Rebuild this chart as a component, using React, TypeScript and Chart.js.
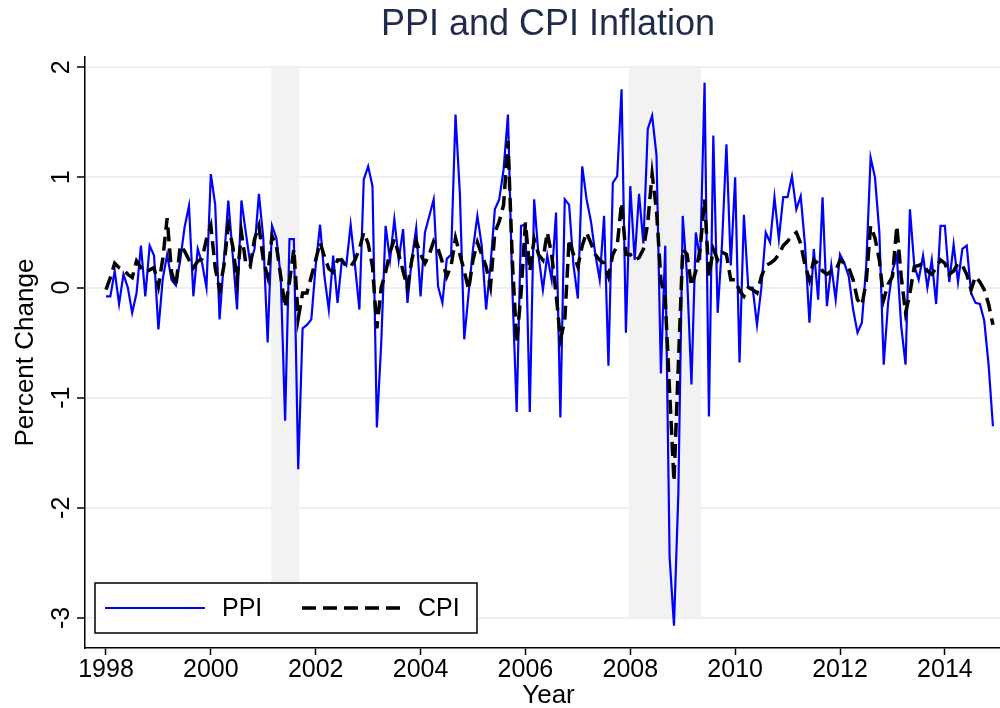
import React, { useEffect, useRef } from "react";
import { Chart, registerables } from "chart.js";

Chart.register(...registerables);

const titleText = "PPI and CPI Inflation";
const xTitle = "Year";
const yTitle = "Percent Change";
const seriesNames = ["PPI", "CPI"];
const startYear = 1998; // monthly data, Jan 1998 - Dec 2014

const ppi = [
  -0.08, -0.08, 0.15, -0.15, 0.12, 0.0, -0.23, -0.05, 0.38, -0.08, 0.38, 0.29,
  -0.38, 0.08, 0.3, 0.07, 0.02, 0.25, 0.55, 0.74, -0.08, 0.35, 0.22, 0.0,
  1.03, 0.75, -0.29, 0.25, 0.79, 0.3, -0.2, 0.79, 0.5, 0.22, 0.35, 0.85,
  0.45, -0.5, 0.56, 0.45, 0.1, -1.21, 0.44, 0.44, -1.65, -0.37, -0.34, -0.29,
  0.2, 0.57, 0.1, -0.2, 0.29, -0.14, 0.25, 0.2, 0.57, 0.2, -0.2, 0.98,
  1.1, 0.92, -1.27, -0.5, 0.56, 0.25, 0.62, 0.25, 0.53, -0.14, 0.26, 0.54,
  -0.08, 0.5, 0.65, 0.8, 0.01, -0.14, 0.26, 0.3, 1.57, 0.85, -0.47, -0.05,
  0.35, 0.65, 0.38, -0.2, 0.2, 0.71, 0.8, 1.07, 1.57, 0.0, -1.13, 0.56,
  0.57, -1.13, 0.8, 0.29, -0.02, 0.29, 0.07, 0.68, -1.18, 0.8, 0.75, 0.2,
  -0.1, 1.1, 0.8, 0.6, 0.3, 0.07, 0.65, -0.71, 0.95, 1.01, 1.8, -0.41,
  0.92, 0.25, 0.85, 0.4, 1.44, 1.56, 1.2, -0.78, 0.38, -2.45, -3.07, -1.87,
  0.65, 0.1, -0.88, 0.5, 0.25, 1.86, -1.17, 1.38, -0.23, 0.4, 1.3, 0.2,
  1.0, -0.68, 0.66, 0.0, 0.0, -0.34, 0.0, 0.5, 0.41, 0.82, 0.44, 0.82,
  0.82, 1.01, 0.71, 0.83, 0.38, -0.32, 0.35, -0.11, 0.82, -0.17, 0.2, -0.11,
  0.3, 0.22, 0.1, -0.2, -0.41, -0.32, 0.2, 1.18, 1.0, 0.5, -0.7, -0.14,
  0.15, 0.29, -0.35, -0.7, 0.71, 0.2, 0.07, 0.29, 0.0, 0.25, -0.15, 0.56,
  0.56, 0.05, 0.39, 0.05, 0.35, 0.38, -0.05, -0.14, -0.15, -0.3, -0.7, -1.26,
];

const cpi = [
  -0.02, 0.09, 0.22, 0.18, 0.16, 0.12, 0.09, 0.24, 0.18, 0.14, 0.16, 0.18,
  0.01, 0.26, 0.63, 0.14, 0.01, 0.38, 0.33, 0.25, 0.18, 0.24, 0.26, 0.44,
  0.56, 0.18, -0.02, 0.2, 0.56, 0.38, 0.07, 0.5, 0.22, 0.19, 0.44, 0.56,
  0.25, 0.1, 0.47, 0.38, 0.1, -0.18, 0.05, 0.35, -0.28, -0.05, -0.05, 0.1,
  0.25, 0.41, 0.28, 0.17, 0.14, 0.25, 0.25, 0.19, 0.19, 0.25, 0.35, 0.5,
  0.4, 0.19, -0.37, 0.0, 0.14, 0.32, 0.44, 0.3, 0.15, 0.0, 0.25, 0.42,
  0.3, 0.22, 0.3, 0.42, 0.35, 0.23, 0.1, 0.2, 0.45, 0.3, 0.15, -0.02,
  0.25, 0.41, 0.3, 0.19, 0.01, 0.5, 0.6, 0.75, 1.33, 0.25, -0.5, -0.05,
  0.59, 0.15, 0.44, 0.3, 0.25, 0.5, 0.3, -0.05, -0.47, -0.3, 0.44, 0.3,
  0.19, 0.38, 0.5, 0.4, 0.3, 0.25, 0.22, 0.1, 0.3, 0.38, 0.77, 0.3,
  0.3, 0.25, 0.27, 0.35, 0.59, 1.03, 0.7, 0.07, -0.11, -0.95, -1.76, -0.7,
  0.35, 0.3, 0.01, 0.15, 0.35, 0.8, 0.1, 0.35, 0.25, 0.32, 0.3, 0.07,
  0.07, -0.03, -0.08, 0.0, -0.02, -0.05, 0.1, 0.2, 0.22, 0.25, 0.3, 0.38,
  0.42, 0.47, 0.5, 0.4, 0.2, 0.07, 0.25, 0.22, 0.15, 0.12, 0.15, 0.15,
  0.25, 0.22, 0.18, 0.07, -0.11, -0.16, 0.05, 0.56, 0.45, 0.25, -0.11, 0.03,
  0.1, 0.56, 0.1, -0.23, -0.05, 0.19, 0.2, 0.22, 0.15, 0.12, 0.18, 0.25,
  0.22, 0.12, 0.15, 0.22, 0.2, 0.12, -0.02, 0.1, 0.05, -0.02, -0.15, -0.34,
];

const xTicks = [1998, 2000, 2002, 2004, 2006, 2008, 2010, 2012, 2014];
const yTicks = [-3, -2, -1, 0, 1, 2];
const recessions = [
  [2001.15, 2001.69],
  [2007.97, 2009.35],
];

const FAMILY = "'Liberation Sans', Arial, sans-serif";

const bandPlugin = {
  id: "bands",
  beforeDatasetsDraw(chart: any) {
    const { ctx, scales } = chart;
    const xs = scales.x;
    const ys = scales.y;
    const top = ys.getPixelForValue(yTicks[yTicks.length - 1]);
    const bottom = ys.getPixelForValue(yTicks[0]);
    ctx.save();
    ctx.fillStyle = "#f2f2f2";
    for (const [a, b] of recessions) {
      const x0 = xs.getPixelForValue(a);
      const x1 = xs.getPixelForValue(b);
      ctx.fillRect(x0, top, x1 - x0, bottom - top);
    }
    ctx.restore();
  },
};

const legendPlugin = {
  id: "boxLegend",
  afterDraw(chart: any) {
    const { ctx } = chart;
    const ds = chart.data.datasets;
    const bx = 95, by = 583, bw = 382, bh = 50;
    const cy = by + bh / 2;
    ctx.save();
    ctx.fillStyle = "#ffffff";
    ctx.fillRect(bx, by, bw, bh);
    ctx.strokeStyle = "#000000";
    ctx.lineWidth = 1.5;
    ctx.strokeRect(bx, by, bw, bh);
    const items = [
      { x0: 105, x1: 205, tx: 222 },
      { x0: 302, x1: 402, tx: 418 },
    ];
    items.forEach((it, k) => {
      const d = ds[k];
      ctx.beginPath();
      ctx.strokeStyle = d.borderColor;
      ctx.lineWidth = d.borderWidth;
      ctx.setLineDash(d.borderDash || []);
      ctx.moveTo(it.x0, cy);
      ctx.lineTo(it.x1, cy);
      ctx.stroke();
      ctx.setLineDash([]);
      ctx.fillStyle = "#000000";
      ctx.font = `25px ${FAMILY}`;
      ctx.textBaseline = "middle";
      ctx.textAlign = "left";
      ctx.fillText(seriesNames[k], it.tx, cy + 1);
    });
    ctx.restore();
  },
};

export default function App() {
  const ref = useRef<HTMLCanvasElement | null>(null);

  useEffect(() => {
    if (!ref.current) return;
    const toPts = (arr: number[]) =>
      arr.map((v, i) => ({ x: startYear + i / 12, y: v }));
    const chart = new Chart(ref.current, {
      type: "line",
      data: {
        datasets: [
          {
            label: seriesNames[0],
            data: toPts(ppi),
            borderColor: "#0000ff",
            borderWidth: 2.2,
            pointRadius: 0,
            tension: 0,
            fill: false,
            order: 1,
          },
          {
            label: seriesNames[1],
            data: toPts(cpi),
            borderColor: "#000000",
            borderWidth: 3.5,
            borderDash: [14, 7],
            pointRadius: 0,
            tension: 0,
            fill: false,
            order: 0,
          },
        ],
      },
      options: {
        animation: false,
        responsive: false,
        devicePixelRatio: 1,
        layout: { padding: { left: 0, right: 0, top: 0, bottom: 0 } },
        plugins: {
          legend: { display: false },
          tooltip: { enabled: false },
          title: {
            display: true,
            text: titleText,
            color: "#1e2b4a",
            font: { family: FAMILY, size: 36, weight: "normal" },
            padding: { top: 3, bottom: 11 },
          },
        },
        scales: {
          x: {
            type: "linear",
            min: 1997.6,
            max: 2015.28,
            afterBuildTicks: (s: any) => {
              s.ticks = xTicks.map((v) => ({ value: v }));
            },
            afterFit: (s: any) => {
              s.height = 60;
            },
            grid: {
              drawOnChartArea: false,
              drawTicks: true,
              tickLength: 7,
              tickColor: "#000000",
              tickWidth: 1.5,
            },
            border: { color: "#000000", width: 1.5 },
            ticks: {
              color: "#000000",
              font: { family: FAMILY, size: 25 },
              padding: 0,
              maxRotation: 0,
              autoSkip: false,
              callback: (v: any) => String(v),
            },
            title: {
              display: true,
              text: xTitle,
              color: "#000000",
              font: { family: FAMILY, size: 26, lineHeight: 0.9 },
              padding: { top: 0, bottom: 0 },
            },
          },
          y: {
            type: "linear",
            min: -3.273,
            max: 2.091,
            afterBuildTicks: (s: any) => {
              s.ticks = yTicks.map((v) => ({ value: v }));
            },
            afterFit: (s: any) => {
              s.width = 85;
            },
            grid: {
              color: "#eaf1f3",
              lineWidth: 2,
              drawTicks: true,
              tickLength: 8,
              tickColor: "#000000",
              tickWidth: 1.5,
            },
            border: { color: "#000000", width: 1.5 },
            ticks: {
              color: "#000000",
              font: { family: FAMILY, size: 25 },
              minRotation: 90,
              maxRotation: 90,
              crossAlign: "center",
              padding: 4,
              callback: (v: any) => String(v),
            },
            title: {
              display: true,
              text: yTitle,
              color: "#000000",
              font: { family: FAMILY, size: 26 },
              padding: { top: 10, bottom: 0 },
            },
          },
          // empty right-hand margin of the plot (cropped off in the picture)
          yRight: {
            type: "linear",
            position: "right",
            min: 0,
            max: 1,
            afterFit: (s: any) => {
              s.width = 84;
            },
            grid: { display: false, drawTicks: false },
            border: { display: false },
            ticks: { display: false },
            title: { display: false },
          },
        },
      },
      plugins: [bandPlugin, legendPlugin],
    } as any);
    return () => chart.destroy();
  }, []);

  return (
    <div style={{ position: "absolute", left: 0, top: 0, width: 1000, height: 708, overflow: "hidden", background: "#ffffff" }}>
      <canvas ref={ref} width={1096} height={708} style={{ display: "block", width: 1096, height: 708 }} />
    </div>
  );
}
